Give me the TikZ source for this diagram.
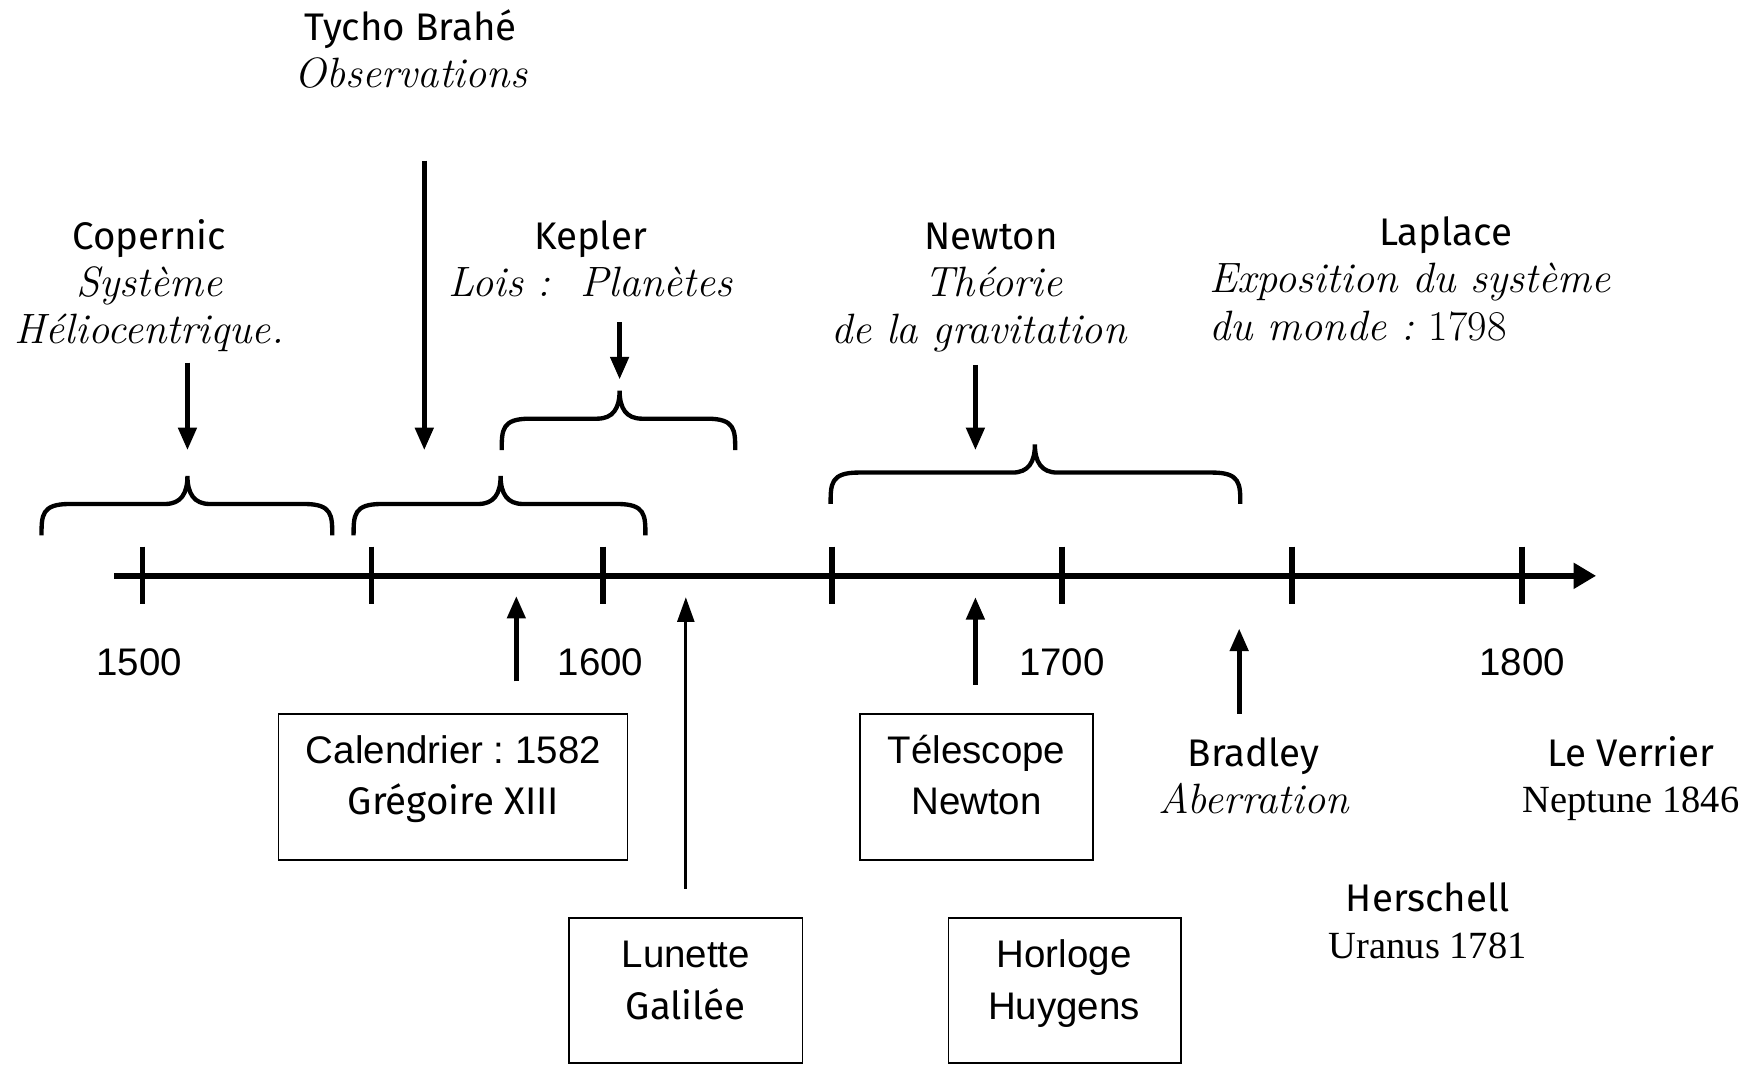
\documentclass[tikz,border=0pt]{standalone}
\usepackage{fontspec}
\usetikzlibrary{arrows.meta}
\newfontfamily\comicf{Fira Sans}
\newfontfamily\arialf{Liberation Sans}
\newfontfamily\timesf{Liberation Serif}
\frenchspacing
\newcommand{\cbrace}[4]{% left x, right x, middle x, tip y
  \draw[bracestyle] (#1,#4+53) .. controls (#1,#4+35) and (#1,#4+25) .. (#1+25,#4+25)
    -- (#3-20,#4+25) .. controls (#3-6,#4+25) and (#3,#4+16) .. (#3,#4)
    .. controls (#3,#4+16) and (#3+6,#4+25) .. (#3+20,#4+25)
    -- (#2-25,#4+25) .. controls (#2,#4+25) and (#2,#4+35) .. (#2,#4+53);}
\tikzset{
  comictxt/.style={font=\comicf\fontsize{19.5}{24}\selectfont, inner sep=0pt, anchor=base},
  arialtxt/.style={font=\arialf\fontsize{19.5}{24}\selectfont, inner sep=0pt, anchor=base},
  ittxt/.style={font=\itshape\fontsize{21.5}{24}\selectfont, inner sep=0pt, anchor=base},
  timestxt/.style={font=\timesf\fontsize{19.5}{24}\selectfont, inner sep=0pt, anchor=base},
  axisline/.style={line width=2.85pt},
  tickmark/.style={line width=2.85pt},
  bracestyle/.style={line width=2.2pt},
  bigarrow/.style={line width=2.4pt, -{Triangle[length=4mm,width=3.2mm]}},
  thinarrow/.style={line width=1.4pt, -{Triangle[length=4.4mm,width=3mm]}},
  boxstyle/.style={draw, line width=0.8pt, inner sep=0pt},
}
\begin{document}
\begin{tikzpicture}[x=0.2mm,y=-0.2mm]
\useasboundingbox (0,0) rectangle (1568,949);
% timeline
\coordinate (tlstart) at (102,513);
\coordinate (tlend) at (1422,513);
\draw[axisline, -{Triangle[length=4mm,width=4.4mm]}] (tlstart) -- (tlend);
\foreach \x in {127,331,537,741,946,1151,1356}{
  \draw[tickmark] (\x,487) -- (\x,538);
}
% years
\node[arialtxt] (y1500) at (124,602) {1500};
\node[arialtxt] (y1600) at (535,602) {1600};
\node[arialtxt] (y1700) at (946,602) {1700};
\node[arialtxt] (y1800) at (1356,602) {1800};
% top labels
\node[comictxt] (tyc1) at (366,36) {Tycho Brahé};
\node[ittxt] (tyc2) at (366,78) {Observations};
\node[comictxt] (cop1) at (133,222) {Copernic};
\node[ittxt] (cop2) at (133,264) {Système};
\node[ittxt] (cop3) at (133,306) {Héliocentrique.};
\node[comictxt] (kep1) at (526,222) {Kepler};
\node[ittxt] (kep2) at (526,264) {Lois :\ \ Planètes};
\node[comictxt] (new1) at (883,222) {Newton};
\node[ittxt] (new2) at (885,264) {Théorie};
\node[ittxt] (new3) at (872,306) {de la gravitation};
\node[comictxt] (lap1) at (1288,219) {Laplace};
\node[ittxt, anchor=base west] (lap2) at (1077,261) {Exposition du système};
\node[ittxt, anchor=base west] (lap3) at (1077,303) {du monde : {\upshape 1798}};
% braces
\cbrace{37}{296}{167}{424}
\cbrace{315}{575}{446}{424}
\cbrace{447}{655}{552}{348}
\cbrace{740}{1105}{922}{396}
% down arrows
\coordinate (copA) at (167,323); \coordinate (copB) at (167,401);
\coordinate (tycA) at (378,143); \coordinate (tycB) at (378,401);
\coordinate (kepA) at (552,287); \coordinate (kepB) at (552,338);
\coordinate (newA) at (869,325); \coordinate (newB) at (869,401);
\draw[bigarrow] (copA) -- (copB);
\draw[bigarrow] (tycA) -- (tycB);
\draw[bigarrow] (kepA) -- (kepB);
\draw[bigarrow] (newA) -- (newB);
% boxes
\node[boxstyle, minimum width=62.2mm, minimum height=26mm] (cal) at (403.5,701) {};
\node[arialtxt] (cal1) at (404,680) {Calendrier : 1582};
\node[comictxt] (cal2) at (404,726) {Grégoire XIII};
\node[boxstyle, minimum width=41.6mm, minimum height=26mm] (tel) at (870,701) {};
\node[arialtxt] (tel1) at (870,680) {Télescope};
\node[arialtxt] (tel2) at (870,726) {Newton};
\node[boxstyle, minimum width=41.6mm, minimum height=25.8mm] (lun) at (611,882.5) {};
\node[arialtxt] (lun1) at (611,862) {Lunette};
\node[comictxt] (lun2) at (611,908) {Galilée};
\node[boxstyle, minimum width=41.4mm, minimum height=25.8mm] (hor) at (948.5,882.5) {};
\node[arialtxt] (hor1) at (948,862) {Horloge};
\node[arialtxt] (hor2) at (948,908) {Huygens};
% lower labels
\node[comictxt] (bra1) at (1117,683) {Bradley};
\node[ittxt] (bra2) at (1117,725) {Aberration};
\node[comictxt] (lev1) at (1453,683) {Le Verrier};
\node[timestxt] (lev2) at (1453,724) {Neptune 1846};
\node[comictxt] (her1) at (1272,812) {Herschell};
\node[timestxt] (her2) at (1272,854) {Uranus 1781};
% up arrows
\coordinate (calA) at (460,607); \coordinate (calB) at (460,531);
\coordinate (lunA) at (611,792); \coordinate (lunB) at (611,532);
\coordinate (telA) at (869,610); \coordinate (telB) at (869,532);
\coordinate (braA) at (1104,636); \coordinate (braB) at (1104,560);
\draw[bigarrow] (calA) -- (calB);
\draw[thinarrow] (lunA) -- (lunB);
\draw[bigarrow] (telA) -- (telB);
\draw[bigarrow] (braA) -- (braB);
\end{tikzpicture}
\end{document}
